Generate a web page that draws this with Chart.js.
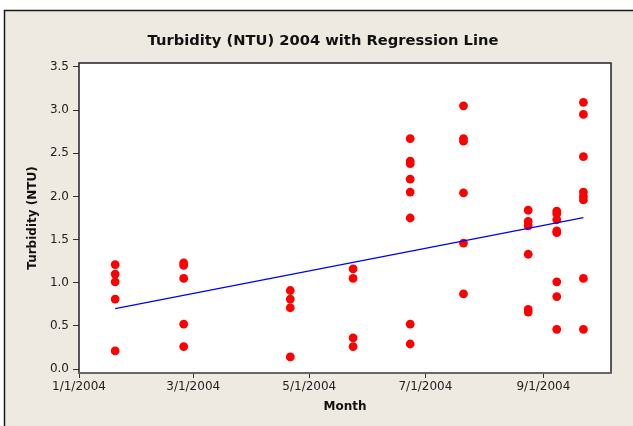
<!DOCTYPE html>
<html>
<head>
<meta charset="utf-8">
<script src="https://cdn.jsdelivr.net/npm/chart.js@4.4.1/dist/chart.umd.min.js"></script>
<style>
  html, body { margin: 0; padding: 0; background: #fff; }
  canvas { display: block; }
</style>
</head>
<body>
<canvas id="turbidity" width="633" height="426"></canvas>
<script>
// sampling dates and measured turbidity (NTU) on each date
const sampleDates = ['2004-01-20', '2004-02-25', '2004-04-21', '2004-05-24', '2004-06-23',
                     '2004-07-21', '2004-08-24', '2004-09-08', '2004-09-22'];
const jan20 = [1.21, 1.10, 1.01, 0.81, 0.21];
const feb25 = [1.23, 1.20, 1.05, 0.52, 0.26];
const apr21 = [0.91, 0.81, 0.71, 0.14];
const may24 = [1.16, 1.05, 0.36, 0.26];
const jun23 = [2.67, 2.41, 2.38, 2.20, 2.05, 1.75, 0.52, 0.29];
const jul21 = [3.05, 2.67, 2.64, 2.04, 1.46, 0.87];
const aug24 = [1.84, 1.71, 1.66, 1.33, 0.69, 0.66];
const sep08 = [1.83, 1.80, 1.73, 1.60, 1.58, 1.01, 0.84, 0.46];
const sep22 = [3.09, 2.95, 2.46, 2.05, 2.00, 1.96, 1.05, 0.46];
const samples = [jan20, feb25, apr21, may24, jun23, jul21, aug24, sep08, sep22];

// regression line end points
const fitDates = ['2004-01-20', '2004-09-22'];
const fitValues = [0.70, 1.755];

// axis ticks
const xTickDates = ['2004-01-01', '2004-03-01', '2004-05-01', '2004-07-01', '2004-09-01'];
const xTickLabels = ['1/1/2004', '3/1/2004', '5/1/2004', '7/1/2004', '9/1/2004'];
const yTicks = [0, 0.5, 1.0, 1.5, 2.0, 2.5, 3.0, 3.5];

const fontFamily = "'DejaVu Sans', Verdana, sans-serif";
const textColor = '#222';

// days since 1/1/2004
function dayOf(iso) {
  const [y, m, d] = iso.split('-').map(Number);
  return (Date.UTC(y, m - 1, d) - Date.UTC(2004, 0, 1)) / 86400000;
}

const points = [];
sampleDates.forEach((date, i) => {
  samples[i].forEach(v => points.push({ x: dayOf(date), y: v }));
});
const fitLine = fitDates.map((d, i) => ({ x: dayOf(d), y: fitValues[i] }));
const xTickDays = xTickDates.map(dayOf);

const framePlugin = {
  id: 'frame',
  beforeDraw(chart) {
    const { ctx, chartArea: a } = chart;
    ctx.save();
    ctx.fillStyle = '#ffffff';
    ctx.fillRect(0, 0, chart.width, chart.height);
    ctx.fillStyle = '#EEEAE1';
    ctx.fillRect(5, 10, chart.width - 5, chart.height - 10);
    ctx.fillStyle = '#ffffff';
    ctx.fillRect(a.left, a.top, a.right - a.left, a.bottom - a.top);
    ctx.restore();
  },
  afterDraw(chart) {
    const { ctx, chartArea: a } = chart;
    ctx.save();
    // outer frame (top and left edge)
    ctx.strokeStyle = '#1a1a1a';
    ctx.lineWidth = 1.5;
    ctx.beginPath();
    ctx.moveTo(chart.width, 10.5);
    ctx.lineTo(4.5, 10.5);
    ctx.lineTo(4.5, chart.height);
    ctx.stroke();
    // data region border
    ctx.strokeStyle = '#222';
    ctx.lineWidth = 1.5;
    ctx.strokeRect(a.left, a.top, a.right - a.left, a.bottom - a.top);
    ctx.strokeStyle = '#666';
    ctx.lineWidth = 2;
    ctx.beginPath();
    ctx.moveTo(a.left, a.bottom);
    ctx.lineTo(a.right, a.bottom);
    ctx.stroke();
    // title
    ctx.fillStyle = '#111';
    ctx.font = `bold 14.7px ${fontFamily}`;
    ctx.textAlign = 'center';
    ctx.textBaseline = 'middle';
    ctx.fillText('Turbidity (NTU) 2004 with Regression Line', 323, 41);
    ctx.restore();
  }
};

new Chart(document.getElementById('turbidity'), {
  type: 'scatter',
  data: {
    datasets: [
      {
        label: 'Turbidity',
        data: points,
        backgroundColor: '#FF0000',
        borderWidth: 0,
        pointRadius: 4.4,
        order: 2
      },
      {
        label: 'Regression',
        data: fitLine,
        showLine: true,
        borderColor: '#0000FF',
        borderWidth: 1.3,
        pointRadius: 0,
        fill: false,
        order: 1
      }
    ]
  },
  options: {
    responsive: false,
    animation: false,
    layout: { padding: { top: 63, right: 22, bottom: 0, left: 0 } },
    plugins: {
      legend: { display: false },
      tooltip: { enabled: false }
    },
    scales: {
      x: {
        type: 'linear',
        min: 0,
        max: 279.5,
        afterBuildTicks: (scale) => { scale.ticks = xTickDays.map(v => ({ value: v })); },
        afterFit: (scale) => { scale.height = 53; },
        ticks: {
          callback: (v) => xTickLabels[xTickDays.indexOf(v)],
          font: { family: fontFamily, size: 12 },
          color: textColor,
          padding: 2,
          maxRotation: 0,
          autoSkip: false
        },
        grid: { display: true, drawOnChartArea: false, drawTicks: true, tickLength: 5, color: '#333', tickWidth: 1 },
        border: { display: false },
        title: {
          display: true,
          text: 'Month',
          font: { family: fontFamily, size: 12, weight: 'bold' },
          color: '#111',
          padding: { top: 0, bottom: 12 }
        }
      },
      y: {
        type: 'linear',
        min: -0.046,
        max: 3.546,
        afterBuildTicks: (scale) => { scale.ticks = yTicks.map(v => ({ value: v })); },
        afterFit: (scale) => { scale.width = 79; },
        ticks: {
          callback: (v) => v.toFixed(1),
          font: { family: fontFamily, size: 12 },
          color: textColor,
          padding: 4
        },
        grid: { display: true, drawOnChartArea: false, drawTicks: true, tickLength: 6, color: '#333', tickWidth: 1 },
        border: { display: false },
        title: {
          display: true,
          text: 'Turbidity (NTU)',
          font: { family: fontFamily, size: 12, weight: 'bold' },
          color: '#111',
          padding: { top: 26, bottom: 0 }
        }
      }
    }
  },
  plugins: [framePlugin]
});
</script>
</body>
</html>
